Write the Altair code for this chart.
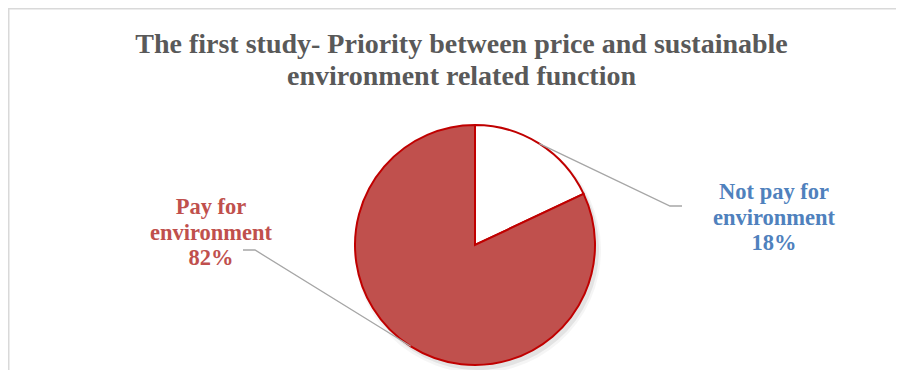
import math
import altair as alt
import pandas as pd

# ---- data ----
categories = ["Not pay for environment", "Pay for environment"]
values = [18, 82]
label_lines = [["Not pay for", "environment", "18%"], ["Pay for", "environment", "82%"]]
label_colors = ["#4F81BD", "#C0504D"]
slice_fills = ["#FFFFFF", "#C0504D"]
title_lines = ["The first study- Priority between price and sustainable",
               "environment related function"]

# ---- layout (pixels, chart coordinates) ----
W, H = 888, 362
CX, CY, R = 467, 237, 120
FONT = "Liberation Serif"
label_pos = [(766, 184), (203, 199)]
elbows = [[(662, 198), (674, 198)], [(247, 242), (235, 242)]]

pie_df = pd.DataFrame({"cat": categories, "value": values, "idx": [0, 1]})

# leader lines: from the mid-angle point of each slice on the rim
rows = []
cum = 0
for i, v in enumerate(values):
    mid = (cum + v / 2) / sum(values) * 2 * math.pi
    cum += v
    sx, sy = CX + R * math.sin(mid), CY - R * math.cos(mid)
    pts = [(sx, sy)] + elbows[i]
    for k, (px, py) in enumerate(pts):
        rows.append({"cat": categories[i], "k": k, "x": px, "y": py})
lead_df = pd.DataFrame(rows)

lab_df = pd.DataFrame({
    "cat": categories,
    "text": ["\n".join(l) for l in label_lines],
    "x": [p[0] for p in label_pos],
    "y": [p[1] for p in label_pos],
})

color_scale = alt.Scale(domain=categories, range=slice_fills)
text_scale = alt.Scale(domain=categories, range=label_colors)

base_pie = alt.Chart(pie_df)

shadow = base_pie.mark_arc(radius=R + 1, fill="#000000", opacity=0.07, stroke=None).encode(
    theta=alt.Theta("value:Q", stack=True),
    order=alt.Order("idx:Q"),
    x=alt.value(CX + 3), y=alt.value(CY + 4),
)
shadow2 = base_pie.mark_arc(radius=R + 3, fill="#000000", opacity=0.04, stroke=None).encode(
    theta=alt.Theta("value:Q", stack=True),
    order=alt.Order("idx:Q"),
    x=alt.value(CX + 3), y=alt.value(CY + 5),
)

pie = base_pie.mark_arc(radius=R, stroke="#C00000", strokeWidth=2).encode(
    theta=alt.Theta("value:Q", stack=True),
    order=alt.Order("idx:Q"),
    fill=alt.Fill("cat:N", scale=color_scale, legend=None),
    x=alt.value(CX), y=alt.value(CY),
)

leaders = alt.Chart(lead_df).mark_line(color="#A6A6A6", strokeWidth=1.3).encode(
    x=alt.X("x:Q", scale=None),
    y=alt.Y("y:Q", scale=None),
    detail="cat:N",
    order="k:Q",
)

labels = alt.Chart(lab_df).mark_text(
    font=FONT, fontSize=22.5, fontWeight="bold", lineBreak="\n", lineHeight=25.5,
    align="center", baseline="middle",
).encode(
    x=alt.X("x:Q", scale=None),
    y=alt.Y("y:Q", scale=None),
    text="text:N",
    color=alt.Color("cat:N", scale=text_scale, legend=None),
)

title_df = pd.DataFrame({"text": ["\n".join(title_lines)]})
title = alt.Chart(title_df).mark_text(
    font=FONT, fontSize=28, fontWeight="bold", color="#595959", lineBreak="\n",
    lineHeight=32, align="center", baseline="middle",
).encode(x=alt.value(453.5), y=alt.value(37), text="text:N")

border_top = alt.Chart(pd.DataFrame({"a": [0]})).mark_rule(color="#D9D9D9", strokeWidth=1.5).encode(
    x=alt.value(0), x2=alt.value(W), y=alt.value(0.75))
border_left = alt.Chart(pd.DataFrame({"a": [0]})).mark_rule(color="#D9D9D9", strokeWidth=1.5).encode(
    x=alt.value(0.75), y=alt.value(0), y2=alt.value(H))

chart = alt.layer(border_top, border_left, shadow2, shadow, pie, leaders, labels, title).properties(
    width=W, height=H, autosize=alt.AutoSizeParams(type="none"), padding=0,
).configure_view(stroke=None).configure(background="white")

chart.save("out.html", embed_options={"renderer": "svg", "actions": False})
